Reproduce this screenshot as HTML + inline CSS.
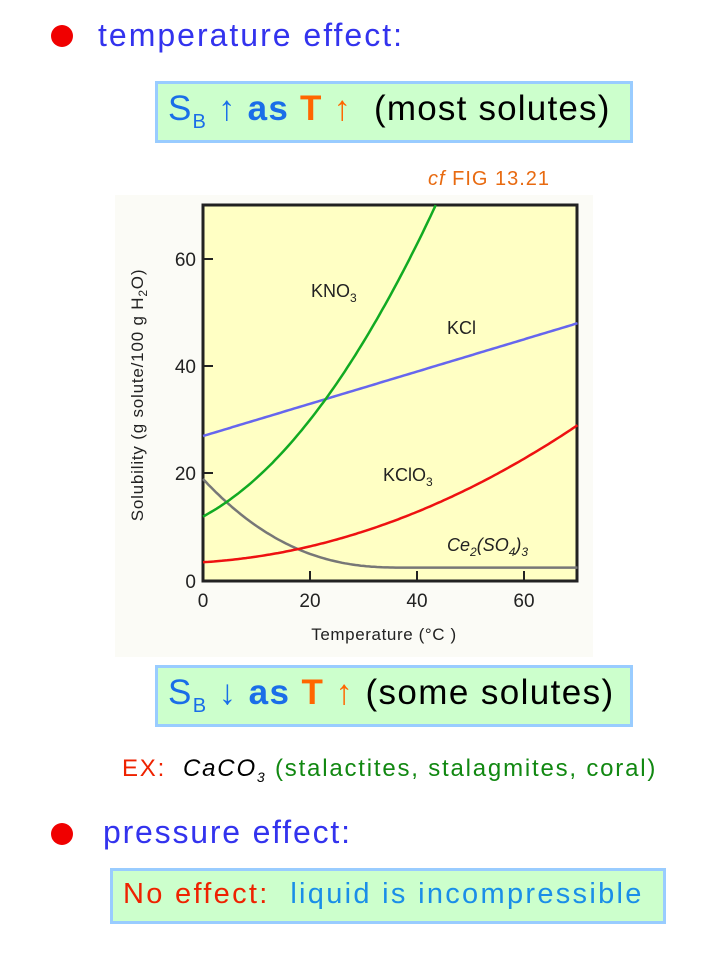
<!DOCTYPE html>
<html><head><style>
body{margin:0;width:720px;height:960px;background:#fff;position:relative;font-family:"Liberation Sans",sans-serif;overflow:hidden}
.a{position:absolute;white-space:nowrap}
.dot{position:absolute;width:22px;height:22px;border-radius:50%;background:#f00000}
.box{position:absolute;background:#ccffcc;border:3px solid #99ccff;box-sizing:border-box}
</style></head><body>
<div class="dot" style="left:51px;top:25px"></div>
<div class="a" style="left:98px;top:17px;font-size:32px;letter-spacing:2px;color:#3333ee">temperature effect:</div>
<div class="box" style="left:155px;top:81px;width:478px;height:62px"></div>
<div class="a" style="left:168px;top:89px;font-size:35px;letter-spacing:1.2px"><span style="color:#1a6ee8">S<sub style="font-size:20px">B</sub> ↑ <b>as</b></span> <b style="color:#ff6600">T</b><span style="color:#ff6600"> ↑</span> &nbsp;<span>(most solutes)</span></div>
<div class="a" style="left:428px;top:168px;font-size:20px;color:#e86a10;letter-spacing:1px"><i>cf</i> FIG 13.21</div>
<svg style="position:absolute;left:0;top:0" width="720" height="960">
<rect x="115" y="195" width="478" height="462" fill="#fbfbf6"/>
<rect x="203" y="205" width="374" height="376" fill="#ffffc4" stroke="#222" stroke-width="3"/>
<g stroke="#222" stroke-width="2">
<line x1="203" y1="259" x2="213" y2="259"/><line x1="203" y1="366" x2="213" y2="366"/><line x1="203" y1="473" x2="213" y2="473"/>
<line x1="310" y1="581" x2="310" y2="571"/><line x1="417" y1="581" x2="417" y2="571"/><line x1="524" y1="581" x2="524" y2="571"/>
</g>
<g font-size="19" fill="#222" font-family="Liberation Sans">
<text x="196" y="266" text-anchor="end">60</text><text x="196" y="373" text-anchor="end">40</text><text x="196" y="480" text-anchor="end">20</text><text x="196" y="588" text-anchor="end">0</text>
<text x="203" y="607" text-anchor="middle">0</text><text x="310" y="607" text-anchor="middle">20</text><text x="417" y="607" text-anchor="middle">40</text><text x="524" y="607" text-anchor="middle">60</text>
<text x="384" y="640" text-anchor="middle" font-size="17" letter-spacing="0.6">Temperature (°C )</text>
<text transform="translate(143,395) rotate(-90)" text-anchor="middle" font-size="17" letter-spacing="0.8">Solubility (g solute/100 g H<tspan font-size="12" dy="4">2</tspan><tspan dy="-4">O)</tspan></text>
<text x="311" y="297" font-size="18">KNO<tspan font-size="12" dy="5">3</tspan></text>
<text x="447" y="334" font-size="18">KCl</text>
<text x="383" y="481" font-size="18">KClO<tspan font-size="12" dy="5">3</tspan></text>
<text x="447" y="551" font-size="18" font-style="italic">Ce<tspan font-size="12" dy="5">2</tspan><tspan dy="-5">(SO</tspan><tspan font-size="12" dy="5">4</tspan><tspan dy="-5">)</tspan><tspan font-size="12" dy="5">3</tspan></text>
</g>
<g fill="none" stroke-width="2.5" id="curves"></g>
</svg>
<div class="box" style="left:155px;top:665px;width:478px;height:62px"></div>
<div class="a" style="left:168px;top:673px;font-size:35px;letter-spacing:1.4px"><span style="color:#1a6ee8">S<sub style="font-size:20px">B</sub> ↓ <b>as</b></span> <b style="color:#ff6600">T</b><span style="color:#ff6600"> ↑</span> <span>(some solutes)</span></div>
<div class="a" style="left:122px;top:755px;font-size:24px;letter-spacing:1.8px"><span style="color:#ee2200">EX:</span>&nbsp; <i>CaCO<sub style="font-size:14px">3</sub></i> <span style="color:#118811">(stalactites, stalagmites, coral)</span></div>
<div class="dot" style="left:51px;top:823px"></div>
<div class="a" style="left:103px;top:814px;font-size:32px;letter-spacing:1.8px;color:#3333ee">pressure effect:</div>
<div class="box" style="left:110px;top:868px;width:556px;height:56px"></div>
<div class="a" style="left:123px;top:878px;font-size:29px;letter-spacing:2.3px"><span style="color:#ee2200">No effect:</span>&nbsp; <span style="color:#1a8ee8">liquid is incompressible</span></div>
<script>
function X(t){return 203+t*5.35}function Y(s){return 581-s*5.37}
function path(f,t0,t1,c){let d='';for(let t=t0;t<=t1+1e-9;t+=0.5){let s=f(t);d+=(d?'L':'M')+X(t).toFixed(1)+','+Y(s).toFixed(1)}
let p=document.createElementNS('http://www.w3.org/2000/svg','path');p.setAttribute('d',d);p.setAttribute('stroke',c);document.getElementById('curves').appendChild(p)}
path(t=>t<37?2.5+16.5*Math.pow((37-t)/37,2.4):2.5,0,70,'#777');
path(t=>3.5+0.0609*t+0.004335*t*t,0,70,'#ee1111');
path(t=>27+0.3*t,0,70,'#6666ee');
path(t=>12+0.533*t+0.01839*t*t,0,43.5,'#11aa22');
</script>
</body></html>
